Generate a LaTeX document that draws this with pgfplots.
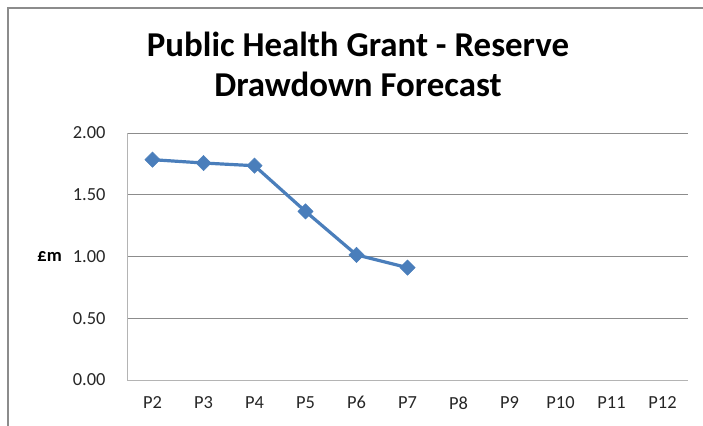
\documentclass[border=0pt]{standalone}
\usepackage{pgfplots}
\pgfplotsset{compat=1.18}
\usepackage{fontspec}
\setmainfont{Carlito}
\definecolor{ser}{HTML}{4A7EBB}
\definecolor{gridc}{HTML}{8C8C8C}
\definecolor{axc}{HTML}{B4B4B4}
\definecolor{framec}{HTML}{8C8C8C}
\definecolor{txt}{HTML}{262626}
\begin{document}
\begin{tikzpicture}[x=1bp,y=1bp]
\path[use as bounding box] (0,0) rectangle (703,425);
\draw[framec, line width=1.5bp] (8,-5) -- (8,417) -- (710,417);
\node[font=\fontsize{35}{40}\selectfont\bfseries, anchor=base, inner sep=0] at (358,369) {Public Health Grant - Reserve};
\node[font=\fontsize{35}{40}\selectfont\bfseries, anchor=base, inner sep=0] at (358,328.5) {Drawdown Forecast};
\begin{axis}[
  at={(127bp,45bp)}, anchor=south west,
  scale only axis, width=561bp, height=247bp,
  xmin=-0.5, xmax=10.5, ymin=0, ymax=2,
  xtick={0,...,10},
  xticklabels={P2,P3,P4,P5,P6,P7,P8,P9,P10,P11,P12},
  ytick={0,0.5,1,1.5,2},
  /pgf/number format/fixed, /pgf/number format/fixed zerofill, /pgf/number format/precision=2,
  /pgf/number format/assume math mode=true,
  tick label style={font=\fontsize{18.5}{21}\selectfont, text=txt},
  y tick label style={xshift=-18bp},
  x tick label style={yshift=-13bp},
  major tick length=0pt,
  axis x line*=bottom, axis y line*=left,
  axis line style={axc, line width=1bp, -},
  ymajorgrids, major grid style={gridc, line width=0.9bp},
  ylabel={£m},
  ylabel style={rotate=-90, at={(axis description cs:0,0.5)}, anchor=east, inner sep=0pt, xshift=-65bp, font=\fontsize{18.5}{21}\selectfont\bfseries},
  clip=false,
]
\addplot[ser, line width=3.2bp, mark=square*, mark size=5.4bp, mark options={rotate=45, fill=ser, draw=ser, line width=0.5bp}]
  coordinates {(0,1.784) (1,1.757) (2,1.735) (3,1.365) (4,1.013) (5,0.910)};
\end{axis}
\end{tikzpicture}
\end{document}
